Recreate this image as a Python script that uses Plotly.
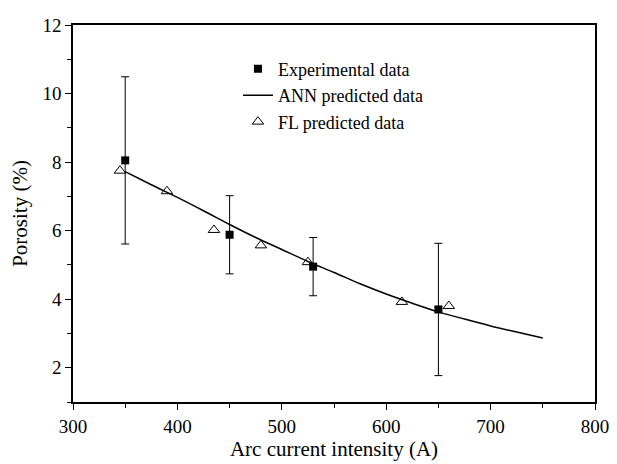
import plotly.graph_objects as go

# Experimental data (mean +/- error)
exp_current = [350, 450, 530, 650]
exp_porosity = [8.05, 5.88, 4.95, 3.70]
exp_error = [2.44, 1.14, 0.85, 1.93]

# ANN predicted curve
ann_current = [350, 375, 400, 425, 450, 475, 500, 525, 550, 575, 600, 625, 650, 675, 700, 725, 750]
ann_porosity = [7.72, 7.34, 6.97, 6.58, 6.18, 5.80, 5.45, 5.10, 4.78, 4.45, 4.15, 3.88, 3.63, 3.42, 3.22, 3.04, 2.87]

# FL predicted data
fl_current = [345, 390, 435, 480, 525, 615, 660]
fl_porosity = [7.75, 7.15, 6.02, 5.57, 5.08, 3.92, 3.80]

font = "Liberation Serif"

fig = go.Figure()
fig.add_trace(go.Scatter(
    x=exp_current, y=exp_porosity, mode="markers", name="Experimental data",
    marker=dict(symbol="square", size=8, color="black"),
    error_y=dict(type="data", array=exp_error, color="black", thickness=1, width=4),
))
fig.add_trace(go.Scatter(
    x=ann_current, y=ann_porosity, mode="lines", name="ANN predicted data",
    line=dict(color="black", width=1.5, shape="spline"),
))
fig.add_trace(go.Scatter(
    x=fl_current, y=fl_porosity, mode="markers", name="FL predicted data",
    marker=dict(symbol="triangle-up-open", size=10, color="black", line=dict(width=1)),
))

axis_common = dict(
    showline=True, linecolor="black", linewidth=1.5, mirror=True,
    ticks="outside", ticklen=6, tickwidth=1, tickcolor="black",
    showgrid=False, zeroline=False, ticklabeloverflow="allow",
    tickfont=dict(family=font, size=19, color="black"),
)

fig.update_xaxes(
    range=[300, 800], dtick=100,
    title=dict(text="Arc current intensity (A)", standoff=4,
               font=dict(family=font, size=21, color="black")),
    minor=dict(dtick=50, ticks="outside", ticklen=4, tickcolor="black"),
    **axis_common,
)
fig.update_yaxes(
    range=[1, 12], tickvals=[2, 4, 6, 8, 10, 12],
    title=dict(text="Porosity (%)", standoff=10,
               font=dict(family=font, size=21, color="black")),
    minor=dict(dtick=1, ticks="outside", ticklen=4, tickcolor="black"),
    **axis_common,
)

# page body has an 8px margin, so the figure is a bit smaller than the window
fig.update_layout(
    width=609, height=456,
    margin=dict(l=65, r=22, t=7, b=62),
    plot_bgcolor="white", paper_bgcolor="white",
    font=dict(family=font, color="black"),
    legend=dict(x=0.316, y=0.932, xanchor="left", yanchor="top",
                bgcolor="rgba(0,0,0,0)", font=dict(family=font, size=18, color="black"),
                tracegroupgap=0, itemwidth=30),
)

fig.write_html("out.html")
